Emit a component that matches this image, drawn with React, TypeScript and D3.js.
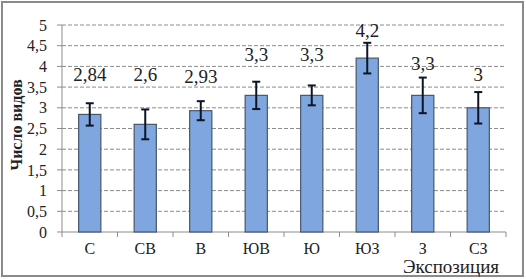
import React from "react";
import * as d3 from "d3";

const categories = ["С", "СВ", "В", "ЮВ", "Ю", "ЮЗ", "З", "СЗ"];
const values = [2.84, 2.6, 2.93, 3.3, 3.3, 4.2, 3.3, 3.0];
const errors = [0.27, 0.36, 0.23, 0.33, 0.24, 0.37, 0.43, 0.38];
const labels = ["2,84", "2,6", "2,93", "3,3", "3,3", "4,2", "3,3", "3"];
const labelAnchors = [3.82, 3.82, 3.77, 4.28, 4.28, 4.88, 4.08, 3.82];
const yTicks = [0, 0.5, 1, 1.5, 2, 2.5, 3, 3.5, 4, 4.5, 5];

const W = 526, H = 279;
const left = 62, right = 506, top = 25, bottom = 232;
const FONT = "Liberation Serif, DejaVu Serif, serif";

export default function App() {
  const x = d3.scaleBand<string>().domain(categories).range([left, right]).paddingInner(0.6).paddingOuter(0.3);
  const xb = d3.scaleBand<string>().domain(categories).range([left, right]);
  const y = d3.scaleLinear().domain([0, 5]).range([bottom, top]);
  const fmt = (v: number) => String(v).replace(".", ",");
  const ts = { fontFamily: FONT };
  return (
    <svg width={W} height={H} style={{ position: "absolute", left: 0, top: 0, background: "#fff" }}>
      <rect x={2} y={2} width={521} height={274} fill="#fff" stroke="#8a8a8a" strokeWidth={2} />
      {yTicks.map((t) => (
        <g key={t}>
          {t > 0 && (
            <line x1={left} x2={right} y1={y(t)} y2={y(t)} stroke="#8c8c8c" strokeWidth={1} strokeDasharray="4,2" />
          )}
          <line x1={left - 5} x2={left} y1={y(t)} y2={y(t)} stroke="#8c8c8c" />
          <text x={47} y={y(t)} dy="0.35em" textAnchor="end" fontSize={16} fill="#222" style={ts}>{fmt(t)}</text>
        </g>
      ))}
      <line x1={left} x2={left} y1={top} y2={bottom} stroke="#8c8c8c" />
      <line x1={left} x2={right} y1={bottom} y2={bottom} stroke="#8c8c8c" />
      {categories.map((c, i) => (
        <line key={"t" + i} x1={(xb(c) as number) + xb.bandwidth()} x2={(xb(c) as number) + xb.bandwidth()} y1={bottom} y2={bottom + 5} stroke="#8c8c8c" />
      ))}
      <line x1={left} x2={left} y1={bottom} y2={bottom + 5} stroke="#8c8c8c" />
      {categories.map((c, i) => {
        const bx = x(c) as number;
        const bw = x.bandwidth();
        const cx = bx + bw / 2;
        return (
          <g key={c}>
            <rect x={bx} y={y(values[i])} width={bw} height={bottom - y(values[i])} fill="#7fa6de" stroke="#46586e" strokeWidth={1.2} />
            <line x1={cx} x2={cx} y1={y(values[i] + errors[i])} y2={y(values[i] - errors[i])} stroke="#0d1426" strokeWidth={2} />
            <line x1={cx - 4} x2={cx + 4} y1={y(values[i] + errors[i])} y2={y(values[i] + errors[i])} stroke="#0d1426" strokeWidth={2} />
            <line x1={cx - 4} x2={cx + 4} y1={y(values[i] - errors[i])} y2={y(values[i] - errors[i])} stroke="#0d1426" strokeWidth={2} />
            <text x={cx} y={y(labelAnchors[i])} dy="0.35em" textAnchor="middle" fontSize={19} fill="#222" style={ts}>{labels[i]}</text>
            <text x={(xb(c) as number) + xb.bandwidth() / 2} y={248} dy="0.35em" textAnchor="middle" fontSize={16} fill="#222" style={ts}>{c}</text>
          </g>
        );
      })}
      <text transform="translate(16,125) rotate(-90)" textAnchor="middle" dy="0.35em" fontSize={16} fontWeight="bold" fill="#222" style={ts}>Число видов</text>
      <text x={451} y={266} dy="0.35em" textAnchor="middle" fontSize={19} fill="#222" style={ts}>Экспозиция</text>
    </svg>
  );
}
